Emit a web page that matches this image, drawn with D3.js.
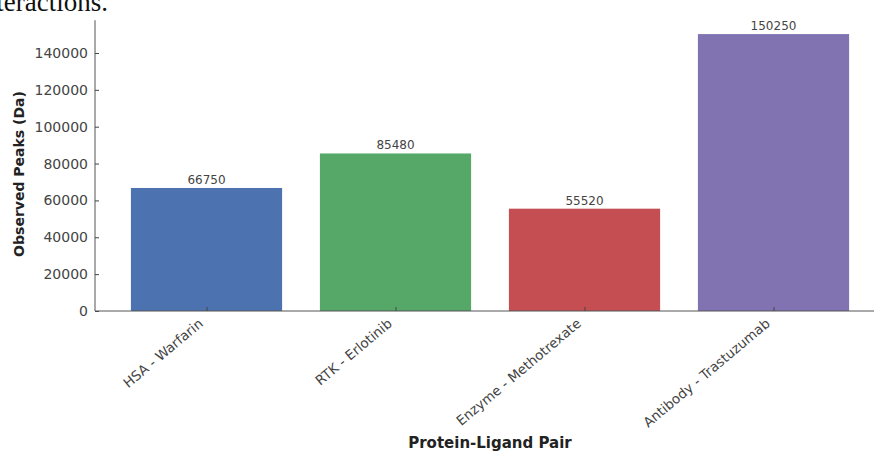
<!DOCTYPE html>
<html><head><meta charset="utf-8">
<script src="https://cdn.jsdelivr.net/npm/d3@7"></script>
<style>body{margin:0;background:#fff}svg{display:block}</style>
</head><body><svg id="c" width="874" height="452"></svg>
<script>
const categories = ["HSA - Warfarin", "RTK - Erlotinib", "Enzyme - Methotrexate", "Antibody - Trastuzumab"];
const values = [66750, 85480, 55520, 150250];
const colors = ["#4c72b0", "#55a868", "#c44e52", "#8172b2"];
const yTicks = [0, 20000, 40000, 60000, 80000, 100000, 120000, 140000];

const svg = d3.select("#c");
const W = 874, H = 452;
const x0 = 95, y0 = 311;
// matplotlib-like ranges
const x = d3.scaleLinear().domain([-0.59, 3.59]).range([x0, x0 + 4.18 * 189]);
const y = d3.scaleLinear().domain([0, d3.max(values) * 1.05]).range([y0, y0 - d3.max(values) * 1.05 / 20000 * 36.86]);

// cropped title from document
svg.append("text").attr("x", 108).attr("y", 11).attr("text-anchor", "end")
  .attr("font-family", "Liberation Serif, Times New Roman, serif").attr("font-size", 27)
  .attr("fill", "#111").text("Interactions.");

// bars
svg.selectAll("rect.bar").data(values).enter().append("rect")
  .attr("x", (d, i) => x(i - 0.4)).attr("width", x(0.4) - x(-0.4))
  .attr("y", d => y(d)).attr("height", d => y0 - y(d))
  .attr("fill", (d, i) => colors[i]);

// value labels
svg.selectAll("text.val").data(values).enter().append("text")
  .attr("x", (d, i) => x(i)).attr("y", d => y(d) - 4)
  .attr("text-anchor", "middle").attr("font-family", "DejaVu Sans").attr("font-size", 12)
  .attr("fill", "#444").text(d => d);

// y axis
const yAxis = d3.axisLeft(y).tickValues(yTicks).tickSize(-4).tickPadding(7).tickFormat(d3.format("d"));
const gy = svg.append("g").attr("transform", `translate(${x0},0)`).call(yAxis);
gy.select(".domain").attr("stroke", "#555").attr("d", `M0,${y.range()[1]}V${y0}`);
gy.selectAll(".tick line").attr("stroke", "#444");
gy.selectAll(".tick text").attr("font-family", "DejaVu Sans").attr("font-size", 14).attr("fill", "#444");

// x axis
const xAxis = d3.axisBottom(x).tickValues(d3.range(categories.length)).tickSize(-4).tickFormat(i => categories[i]);
const gx = svg.append("g").attr("transform", `translate(0,${y0})`).call(xAxis);
gx.select(".domain").attr("stroke", "#555").attr("d", `M${x0},0H${W}`);
gx.selectAll(".tick line").attr("stroke", "#444");
gx.selectAll(".tick text").attr("font-family", "DejaVu Sans").attr("font-size", 13.5).attr("fill", "#444")
  .attr("text-anchor", "end").attr("dy", null).attr("y", 0)
  .attr("transform", "translate(-3,14) rotate(-40)");

// axis titles
svg.append("text").attr("transform", `translate(24,174) rotate(-90)`)
  .attr("text-anchor", "middle").attr("font-family", "DejaVu Sans").attr("font-weight", "bold")
  .attr("font-size", 14).attr("fill", "#222").text("Observed Peaks (Da)");
svg.append("text").attr("x", 490).attr("y", 448).attr("text-anchor", "middle")
  .attr("font-family", "DejaVu Sans").attr("font-weight", "bold")
  .attr("font-size", 15).attr("fill", "#222").text("Protein-Ligand Pair");
</script></body></html>
